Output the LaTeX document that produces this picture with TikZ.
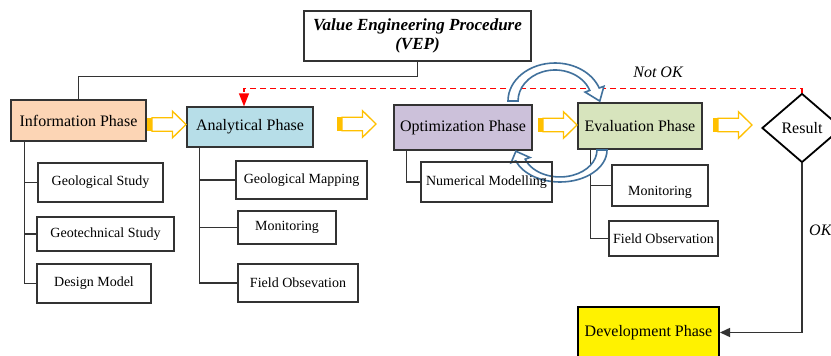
\documentclass[tikz,border=0pt]{standalone}
\usepackage{fontspec}
\setmainfont{Liberation Serif}
\usetikzlibrary{shapes.geometric,arrows.meta}
\definecolor{bord}{HTML}{333333}
\definecolor{infoc}{HTML}{FCD5B5}
\definecolor{anac}{HTML}{B7DEE8}
\definecolor{optc}{HTML}{CCC1DA}
\definecolor{evac}{HTML}{D7E4BD}
\definecolor{arry}{HTML}{FFC000}
\definecolor{arrb}{HTML}{41719C}
\begin{document}
\begin{tikzpicture}[x=1pt,y=-1pt,
  phase/.style={draw=bord, line width=1.3pt, inner sep=0pt, font=\fontsize{16}{19}\selectfont},
  sub/.style={draw=bord, line width=1.2pt, inner sep=0pt, font=\fontsize{14}{16}\selectfont},
  conn/.style={draw=bord, line width=1.4pt},
  bluearr/.style={draw=arrb, line width=1.6pt, fill=white, line join=miter},
  reddash/.style={draw=red, line width=1.3pt, dash pattern=on 6pt off 4pt},
  lbl/.style={font=\fontsize{16}{19}\selectfont\itshape, inner sep=0pt},
  yarrow/.pic={
    \fill[arry] (0,-6.7) rectangle (5,6.7);
    \draw[arry, line width=1.3pt, fill=white, line join=miter]
      (5,-6.7) -- (25.5,-6.7) -- (25.5,-13.3) -- (39,0) -- (25.5,13.3) -- (25.5,6.7) -- (5,6.7) -- cycle;
  }]
\useasboundingbox (0,0) rectangle (831,356);
\fill[white] (0,0) rectangle (831,356);

% title
\node[draw=bord, line width=1.2pt, minimum width=227, minimum height=50, inner sep=0pt,
  align=center, font=\fontsize{17}{18.5}\selectfont\bfseries\itshape] (vep) at (417.5,36)
  {Value Engineering Procedure\\(VEP)};

% phases
\node[phase, fill=infoc, minimum width=135, minimum height=41] (info) at (78.5,120.5) {Information Phase};
\node[phase, fill=anac, minimum width=126, minimum height=40] (ana) at (250,127) {Analytical Phase};
\node[phase, fill=optc, minimum width=138, minimum height=45] (opt) at (463,127.5) {Optimization Phase};
\node[phase, fill=evac, minimum width=124, minimum height=46] (eva) at (640,126) {Evaluation Phase};
\node[shape=diamond, draw=black, line width=1.8pt, minimum width=80, minimum height=69, inner sep=0pt,
  font=\fontsize{16}{19}\selectfont] (res) at (802,128) {Result};
\node[draw=black, line width=2pt, fill=yellow, minimum width=141, minimum height=51, inner sep=0pt,
  font=\fontsize{16}{19}\selectfont] (dev) at (648.5,332.5) {Development Phase};

% sub boxes
\node[sub, minimum width=125, minimum height=39] (gs) at (100.5,182.5) {Geological Study};
\node[sub, minimum width=137, minimum height=34] (gt) at (105.5,234) {Geotechnical Study};
\node[sub, minimum width=114, minimum height=39] (dm) at (94,283.5) {Design Model};
\node[sub, minimum width=131, minimum height=38] (gm) at (301.5,180) {Geological Mapping};
\node[sub, minimum width=98, minimum height=33] (mon1) at (287,227.5) {Monitoring};
\node[sub, minimum width=120, minimum height=38] (fo1) at (298,283) {Field Obsevation};
\node[sub, minimum width=96, minimum height=41] (mon2) at (660,185.5) {};
\node[font=\fontsize{14}{16}\selectfont, inner sep=0pt] (mon2t) at (660,192) {Monitoring};
\node[sub, minimum width=109, minimum height=35] (fo2) at (663.5,238.5) {Field Observation};

% tree connectors
\draw[conn] (vep.south) -- ++(0,15) -| (info.north);
\draw[conn] (info.south west) ++(14,0) |- (gs.west);
\draw[conn] (info.south west) ++(14,0) |- (gt.west);
\draw[conn] (info.south west) ++(14,0) |- (dm.west);
\draw[conn] (ana.south west) ++(13,0) |- (gm.west);
\draw[conn] (ana.south west) ++(13,0) |- (mon1.west);
\draw[conn] (ana.south west) ++(13,0) |- (fo1.west);
\draw[conn] (eva.south west) ++(13,0) |- (mon2.west);
\draw[conn] (eva.south west) ++(13,0) |- (fo2.west);

% yellow arrows
\pic at (147,124.5) {yarrow};
\pic at (337,124) {yarrow};
\pic at (538,125) {yarrow};
\pic at (713,125) {yarrow};

% red Not OK loop
\coordinate (nk) at (244,88.5);
\draw[reddash, -{Triangle[length=13pt,width=10pt]}] (res.north) |- (nk) -- (nk |- ana.north);
\node[lbl] (notok) at (658,72) {Not OK};

% OK path
\draw[draw=bord, line width=1.5pt, -{Triangle[length=10pt,width=9pt]}] (res.south) |- (dev.east);
\node[lbl, anchor=west] (ok) at (809,230) {OK};

% blue curved arrows
\draw[bluearr] (508,101) arc[start angle=180, end angle=340, x radius=47, y radius=38]
  -- (603.9,86.3) -- (599.8,101.1) -- (585.1,92.1) -- (589.8,90.4)
  arc[start angle=340, end angle=180, x radius=37, y radius=31] -- cycle;
\draw[bluearr] (607,150) arc[start angle=0, end angle=160, x radius=47, y radius=32]
  -- (511.1,162.7) -- (515.9,151.2) -- (529.9,157.5) -- (525.2,159.2)
  arc[start angle=160, end angle=0, x radius=37, y radius=27] -- cycle;

% optimization sub box (over the arrow)
\node[sub, minimum width=131, minimum height=40] (nm) at (486.5,182) {Numerical Modelling};
\draw[conn] (opt.south west) ++(13,0) |- (nm.west);
\end{tikzpicture}
\end{document}
